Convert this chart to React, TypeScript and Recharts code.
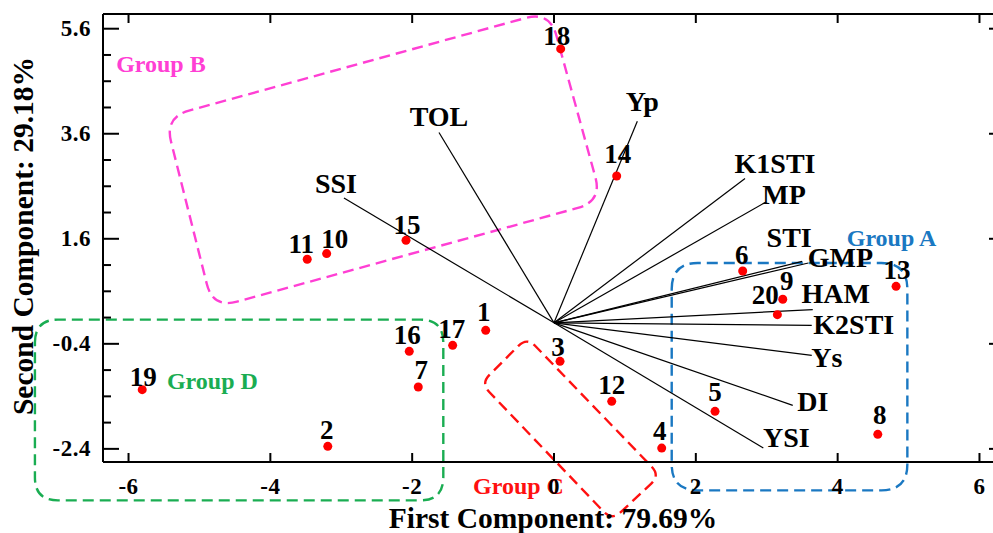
import React from 'react';
import { ScatterChart, Scatter, XAxis, YAxis, ReferenceLine, ReferenceArea, Label } from 'recharts';

// genotype scores on the first two components
const genotypes = ['1', '2', '3', '4', '5', '6', '7', '8', '9', '10', '11', '12', '13', '14', '15', '16', '17', '18', '19', '20'];
const pc1 = [-0.963, -3.19, 0.085, 1.519, 2.271, 2.661, -1.914, 4.566, 3.226, -3.206, -3.48, 0.814, 4.824, 0.884, -2.087, -2.041, -1.429, 0.094, -5.807, 3.15];
const pc2 = [-0.143, -2.352, -0.733, -2.385, -1.686, 0.987, -1.223, -2.124, 0.448, 1.318, 1.21, -1.495, 0.695, 2.796, 1.571, -0.543, -0.429, 5.215, -1.272, 0.156];

// trait vectors
const traits = ['SSI', 'TOL', 'Yp', 'K1STI', 'MP', 'STI', 'GMP', 'HAM', 'K2STI', 'Ys', 'DI', 'YSI'];
const loadX = [-2.962, -1.622, 1.175, 2.694, 2.99, 3.5, 3.587, 3.649, 3.635, 3.635, 3.367, 2.952];
const loadY = [2.377, 3.623, 3.838, 2.747, 2.301, 1.17, 1.139, 0.251, -0.048, -0.619, -1.571, -2.385];

const xTicks = [-6, -4, -2, 0, 2, 4, 6];
const yTicks = [-2.4, -1.9, -1.4, -0.9, -0.4, 0.1, 0.6, 1.1, 1.6, 2.1, 2.6, 3.1, 3.6, 4.1, 4.6, 5.1, 5.6];
const yTickLabels = [-2.4, -0.4, 1.6, 3.6, 5.6];

// group outlines, corners in component units
const groupNames = ['Group A', 'Group B', 'Group C', 'Group D'];
const groupCorners = [
  [[1.66, 1.139], [4.983, 1.139], [4.983, -3.19], [1.66, -3.19]],
  [[-5.487, 3.914], [-0.06, 5.93], [0.677, 2.314], [-4.81, 0.276]],
  [[-0.381, -0.276], [1.495, -2.905], [0.818, -3.762], [-1.03, -1.152]],
  [[-7.32, 0.061], [-1.561, 0.061], [-1.561, -3.381], [-7.32, -3.381]],
];
const groupLabelX = [4.76, -5.543, -0.501, -4.817];
const groupLabelY = [1.61, 4.924, -3.114, -1.114];

const groupColors = ['#1a78c2', '#ff3fd4', '#ff1010', '#1aad52'];
const groupRadius = [26, 25, 12, 23];

// label nudges in px (text centre relative to the mark)
const pointLabelShift: Record<string, [number, number]> = {
  '1': [-2, -18], '2': [-1, -16], '3': [-2, -14], '4': [-2, -17], '5': [0, -19],
  '6': [-1, -16], '7': [3, -17], '8': [2, -19], '9': [4, -18], '10': [8, -15],
  '11': [-6, -15], '12': [0, -16], '13': [1, -16], '14': [1, -22], '15': [1, -15],
  '16': [-2, -16], '17': [-1, -16], '18': [-4, -13], '19': [1, -13], '20': [-12, -20],
};
const traitLabelShift: Record<string, [number, number]> = {
  SSI: [-8, -14], TOL: [0, -16], Yp: [5, -20], K1STI: [30, -15], MP: [18, -7], STI: [-13, -24],
  GMP: [32, -5], HAM: [23, -16], K2STI: [42, -1], Ys: [15, 2], DI: [20, -4], YSI: [23, -11],
};

const FONT = "'Liberation Serif', 'Times New Roman', serif";

const pointData = genotypes.map((name, i) => ({ name, x: pc1[i], y: pc2[i] }));
const traitData = traits.map((name, i) => ({ name, x: loadX[i], y: loadY[i] }));

function roundedPath(pts: number[][], r: number) {
  const n = pts.length;
  let d = '';
  for (let i = 0; i < n; i++) {
    const p0 = pts[(i - 1 + n) % n];
    const p1 = pts[i];
    const p2 = pts[(i + 1) % n];
    const l1 = Math.hypot(p0[0] - p1[0], p0[1] - p1[1]);
    const l2 = Math.hypot(p2[0] - p1[0], p2[1] - p1[1]);
    const a = [p1[0] + ((p0[0] - p1[0]) / l1) * r, p1[1] + ((p0[1] - p1[1]) / l1) * r];
    const b = [p1[0] + ((p2[0] - p1[0]) / l2) * r, p1[1] + ((p2[1] - p1[1]) / l2) * r];
    d += `${i === 0 ? 'M' : 'L'}${a[0]},${a[1]} Q${p1[0]},${p1[1]} ${b[0]},${b[1]} `;
  }
  return d + 'Z';
}

function groupShape(g: number) {
  const cs = groupCorners[g];
  const xs = cs.map((c) => c[0]);
  const ys = cs.map((c) => c[1]);
  const minX = Math.min(...xs), maxX = Math.max(...xs);
  const minY = Math.min(...ys), maxY = Math.max(...ys);
  const shape = (p: any) => {
    const px = (v: number) => p.x + ((v - minX) / (maxX - minX)) * p.width;
    const py = (v: number) => p.y + ((maxY - v) / (maxY - minY)) * p.height;
    const pts = cs.map((c) => [px(c[0]), py(c[1])]);
    const lx = px(groupLabelX[g]);
    const ly = py(groupLabelY[g]);
    return (
      <g>
        <path d={roundedPath(pts, groupRadius[g])} fill="none" stroke={groupColors[g]} strokeWidth={2.4} strokeDasharray="11 6" />
        <text x={lx} y={ly} textAnchor="middle" dominantBaseline="central" fontFamily={FONT} fontWeight="bold" fontSize={24} fill={groupColors[g]}>
          {groupNames[g]}
        </text>
      </g>
    );
  };
  return { minX, maxX, minY, maxY, shape };
}

const tickText = { fontFamily: FONT, fontWeight: 'bold' as const, fontSize: 23, fill: '#000', letterSpacing: 0.5 };
const isMajorY = (v: number) => yTickLabels.some((t) => Math.abs(t - v) < 1e-6);

const BottomTick = (p: any) => (
  <g>
    <line x1={p.x} x2={p.x} y1={p.y - 24} y2={p.y - 33} stroke="#000" strokeWidth={2} />
    <text x={p.x} y={p.y} textAnchor="middle" dominantBaseline="central" {...tickText}>
      {String(p.payload.value)}
    </text>
  </g>
);
const TopTick = (p: any) => (
  <line x1={p.x} x2={p.x} y1={p.y + 4} y2={p.y + 13} stroke="#000" strokeWidth={2} />
);
const LeftTick = (p: any) => {
  const major = isMajorY(p.payload.value);
  return (
    <g>
      <line x1={p.x + 12} x2={p.x + 12 + (major ? 16 : 8)} y1={p.y} y2={p.y} stroke="#000" strokeWidth={2} />
      {major && (
        <text x={p.x} y={p.y} textAnchor="end" dominantBaseline="central" {...tickText}>
          {p.payload.value.toFixed(1)}
        </text>
      )}
    </g>
  );
};
const RightTick = (p: any) => {
  const major = isMajorY(p.payload.value);
  return <line x1={p.x - 4} x2={p.x - 4 - (major ? 16 : 8)} y1={p.y} y2={p.y} stroke="#000" strokeWidth={2} />;
};

const PointShape = (p: any) => {
  const [dx, dy] = pointLabelShift[p.payload.name] || [0, -16];
  return (
    <g>
      <circle cx={p.cx} cy={p.cy} r={4.5} fill="#ff0000" />
      <text x={p.cx + dx} y={p.cy + dy} textAnchor="middle" dominantBaseline="central" fontFamily={FONT} fontWeight="bold" fontSize={27} fill="#000">
        {p.payload.name}
      </text>
    </g>
  );
};

const TraitLabel = (p: any) => {
  const [dx, dy] = traitLabelShift[p.payload.name] || [0, 0];
  return (
    <text x={p.cx + dx} y={p.cy + dy} textAnchor="middle" dominantBaseline="central" fontFamily={FONT} fontWeight="bold" fontSize={28} fill="#000">
      {p.payload.name}
    </text>
  );
};

const axisLine = { stroke: '#000', strokeWidth: 2 };
const xDomain: [number, number] = [-6.36, 6.36];
const yDomain: [number, number] = [-2.65, 5.88];

export default function App() {
  const groups = groupNames.map((_, g) => groupShape(g));
  return (
    <div style={{ position: 'absolute', left: 0, top: 0, width: 993, height: 533, overflow: 'hidden', background: '#fff' }}>
      <ScatterChart width={1010} height={533} margin={{ top: 0, right: 0, bottom: 0, left: 0 }}>
        <XAxis
          type="number"
          dataKey="x"
          domain={xDomain}
          ticks={xTicks}
          interval={0}
          height={71}
          tickSize={0}
          tickMargin={24}
          tickLine={false}
          axisLine={axisLine}
          tick={(p: any) => <BottomTick {...p} />}
        >
          <Label
            content={() => (
              <text x={553} y={518} textAnchor="middle" dominantBaseline="central" fontFamily={FONT} fontWeight="bold" fontSize={29.5} fill="#000">
                First Component: 79.69%
              </text>
            )}
          />
        </XAxis>
        <XAxis
          xAxisId="top"
          orientation="top"
          type="number"
          dataKey="x"
          domain={xDomain}
          allowDataOverflow
          ticks={xTicks}
          interval={0}
          height={14}
          tickSize={0}
          tickMargin={4}
          tickLine={false}
          axisLine={axisLine}
          tick={(p: any) => <TopTick {...p} />}
        />
        <YAxis
          type="number"
          dataKey="y"
          domain={yDomain}
          ticks={yTicks}
          interval={0}
          width={103}
          tickSize={0}
          tickMargin={12}
          tickLine={false}
          axisLine={axisLine}
          tick={(p: any) => <LeftTick {...p} />}
        >
          <Label
            content={() => (
              <text x={23} y={236} transform="rotate(-90 23 236)" textAnchor="middle" dominantBaseline="central" fontFamily={FONT} fontWeight="bold" fontSize={29.5} fill="#000">
                Second Component: 29.18%
              </text>
            )}
          />
        </YAxis>
        <YAxis
          yAxisId="right"
          orientation="right"
          type="number"
          dataKey="y"
          domain={yDomain}
          allowDataOverflow
          ticks={yTicks}
          interval={0}
          width={5}
          tickSize={0}
          tickMargin={4}
          tickLine={false}
          axisLine={axisLine}
          tick={(p: any) => <RightTick {...p} />}
        />

        {groups.map((g, i) => (
          <ReferenceArea
            key={groupNames[i]}
            x1={g.minX}
            x2={g.maxX}
            y1={g.minY}
            y2={g.maxY}
            ifOverflow="visible"
            shape={g.shape}
          />
        ))}

        {traitData.map((t) => (
          <ReferenceLine
            key={t.name}
            segment={[{ x: 0, y: 0 }, { x: t.x, y: t.y }]}
            stroke="#000"
            strokeWidth={1.2}
            ifOverflow="visible"
          />
        ))}

        <Scatter data={traitData} shape={(p: any) => <TraitLabel {...p} />} isAnimationActive={false} />
        <Scatter data={pointData} shape={(p: any) => <PointShape {...p} />} isAnimationActive={false} />
      </ScatterChart>
    </div>
  );
}
